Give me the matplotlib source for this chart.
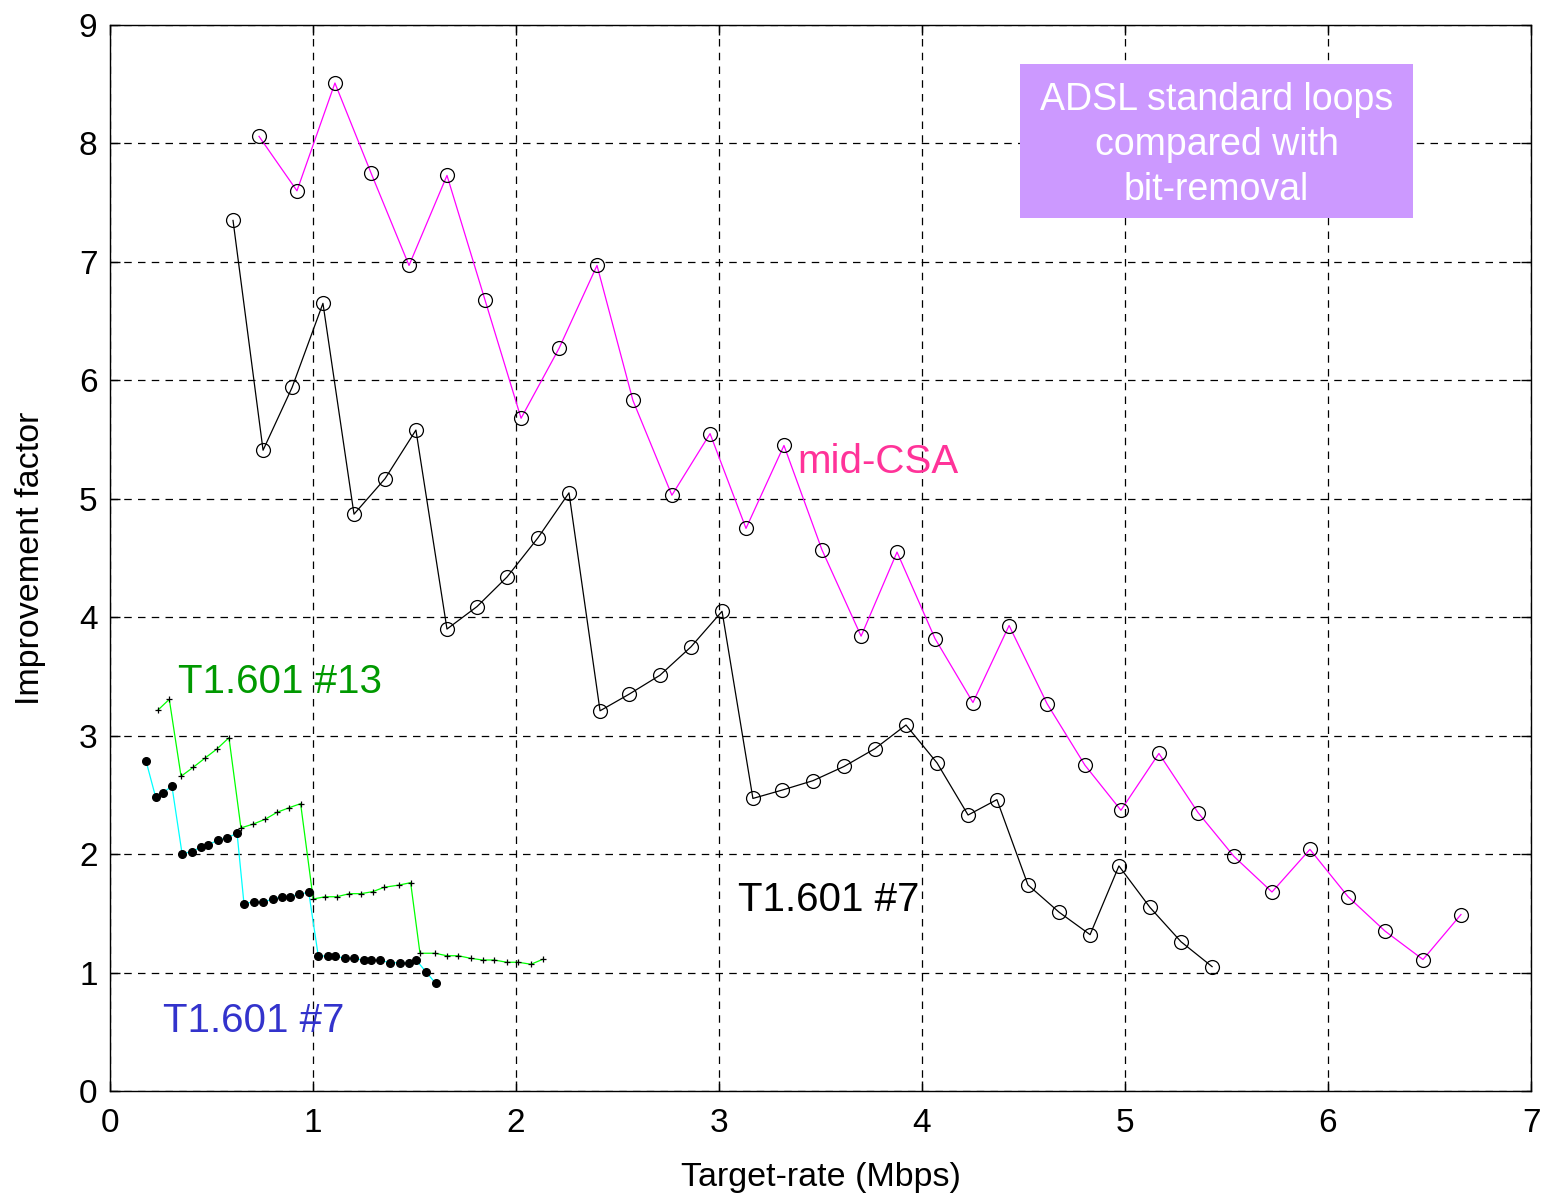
import matplotlib
matplotlib.use("Agg")
import matplotlib.pyplot as plt
from matplotlib.patches import Rectangle

plt.rcParams['font.family'] = ['Liberation Sans', 'DejaVu Sans']

# mid-CSA (magenta, open circles)
midcsa_x = [0.734, 0.921, 1.108, 1.286, 1.473, 1.660, 1.847, 2.025, 2.212, 2.399,
            2.576, 2.768, 2.956, 3.133, 3.320, 3.507, 3.700, 3.877, 4.064, 4.251,
            4.429, 4.616, 4.803, 4.980, 5.167, 5.360, 5.537, 5.724, 5.911, 6.099,
            6.281, 6.468, 6.655]
midcsa_y = [8.06, 7.60, 8.51, 7.75, 6.97, 7.73, 6.68, 5.68, 6.27, 6.97,
            5.83, 5.03, 5.55, 4.75, 5.45, 4.57, 3.84, 4.55, 3.82, 3.28,
            3.93, 3.27, 2.75, 2.37, 2.85, 2.35, 1.98, 1.68, 2.04, 1.64,
            1.35, 1.11, 1.49]

# T1.601 #7 (black, open circles)
t7_x = [0.606, 0.754, 0.897, 1.049, 1.202, 1.355, 1.507, 1.660, 1.808, 1.956,
        2.108, 2.261, 2.414, 2.557, 2.709, 2.862, 3.015, 3.167, 3.310, 3.463,
        3.616, 3.768, 3.921, 4.074, 4.227, 4.369, 4.522, 4.675, 4.828, 4.970,
        5.123, 5.276, 5.429]
t7_y = [7.35, 5.41, 5.94, 6.65, 4.87, 5.17, 5.58, 3.90, 4.09, 4.34,
        4.67, 5.05, 3.21, 3.35, 3.51, 3.75, 4.05, 2.47, 2.54, 2.62,
        2.74, 2.89, 3.09, 2.77, 2.33, 2.46, 1.74, 1.51, 1.32, 1.90,
        1.55, 1.26, 1.05]

# T1.601 #13 (green line, + markers)
t13_x = [0.235, 0.292, 0.350, 0.410, 0.469, 0.527, 0.586, 0.645, 0.706, 0.764,
         0.823, 0.883, 0.939, 1.001, 1.059, 1.117, 1.179, 1.236, 1.294, 1.351,
         1.425, 1.481, 1.527, 1.601, 1.659, 1.716, 1.777, 1.836, 1.893, 1.954,
         2.011, 2.074, 2.132]
t13_y = [3.214, 3.307, 2.657, 2.733, 2.812, 2.888, 2.983, 2.221, 2.254, 2.294,
         2.353, 2.392, 2.426, 1.621, 1.640, 1.640, 1.666, 1.666, 1.683, 1.720,
         1.739, 1.759, 1.163, 1.163, 1.142, 1.142, 1.120, 1.106, 1.106, 1.087,
         1.087, 1.070, 1.112]

# T1.601 #7 bit-removal (cyan line, black dots)
t7b_x = [0.177, 0.225, 0.260, 0.305, 0.355, 0.402, 0.448, 0.484, 0.532, 0.578,
         0.626, 0.660, 0.708, 0.755, 0.801, 0.849, 0.885, 0.931, 0.979, 1.026,
         1.072, 1.108, 1.156, 1.202, 1.250, 1.286, 1.332, 1.379, 1.427, 1.473,
         1.509, 1.557, 1.604]
t7b_y = [2.789, 2.480, 2.516, 2.575, 2.004, 2.020, 2.060, 2.080, 2.117, 2.139,
         2.176, 1.581, 1.598, 1.598, 1.619, 1.640, 1.640, 1.661, 1.678, 1.140,
         1.140, 1.140, 1.120, 1.120, 1.104, 1.104, 1.104, 1.083, 1.083, 1.083,
         1.104, 1.005, 0.909]

xticks = [0, 1, 2, 3, 4, 5, 6, 7]
yticks = [0, 1, 2, 3, 4, 5, 6, 7, 8, 9]

fig = plt.figure(figsize=(15.45, 11.96), dpi=100)
ax = fig.add_axes([110/1545, 105/1196, 1421/1545, 1066/1196])

lw = 0.9
ax.plot(midcsa_x, midcsa_y, color='#FF00FF', lw=lw, zorder=3)
ax.plot(midcsa_x, midcsa_y, ls='none', marker='o', ms=10, mfc='none', mec='k', mew=0.9, zorder=4)
ax.plot(t7_x, t7_y, color='k', lw=lw, zorder=3)
ax.plot(t7_x, t7_y, ls='none', marker='o', ms=10, mfc='none', mec='k', mew=0.9, zorder=4)
ax.plot(t13_x, t13_y, color='#00FF00', lw=lw, zorder=3)
ax.plot(t13_x, t13_y, ls='none', marker='+', ms=5, mec='k', mew=0.9, zorder=4)
ax.plot(t7b_x, t7b_y, color='#00FFFF', lw=lw, zorder=3)
ax.plot(t7b_x, t7b_y, ls='none', marker='o', ms=5.5, mfc='k', mec='k', zorder=4)

ax.set_xlim(0, 7)
ax.set_ylim(0, 9)
ax.set_xticks(xticks)
ax.set_yticks(yticks)
ax.tick_params(direction='in', length=7, width=1, top=True, right=True, labelsize=24)
ax.tick_params(axis='x', pad=12)
ax.tick_params(axis='y', pad=9)
ax.grid(True, color='k', linestyle=(0, (6, 5)), linewidth=0.9)
for s in ax.spines.values():
    s.set_linewidth(1.0)

ax.set_xlabel('Target-rate (Mbps)', fontsize=24.5, labelpad=17)
ax.set_ylabel('Improvement factor', fontsize=24.5, labelpad=24)

ax.text(3.384, 5.31, 'mid-CSA', color='#FF3399', fontsize=29, ha='left', va='center', zorder=5)
ax.text(0.335, 3.45, 'T1.601 #13', color='#009900', fontsize=29, ha='left', va='center', zorder=5)
ax.text(3.094, 1.61, 'T1.601 #7', color='k', fontsize=29, ha='left', va='center', zorder=5)
ax.text(0.261, 0.59, 'T1.601 #7', color='#3333CC', fontsize=29, ha='left', va='center', zorder=5)

ax.add_patch(Rectangle((4.483, 7.371), 1.936, 1.300, facecolor='#CC99FF', edgecolor='none', zorder=5))
ax.text(5.451, 7.99, 'ADSL standard loops\ncompared with\nbit-removal', color='white',
        fontsize=27, ha='center', va='center', linespacing=1.32, zorder=6)

fig.savefig('out.png', dpi=100)
